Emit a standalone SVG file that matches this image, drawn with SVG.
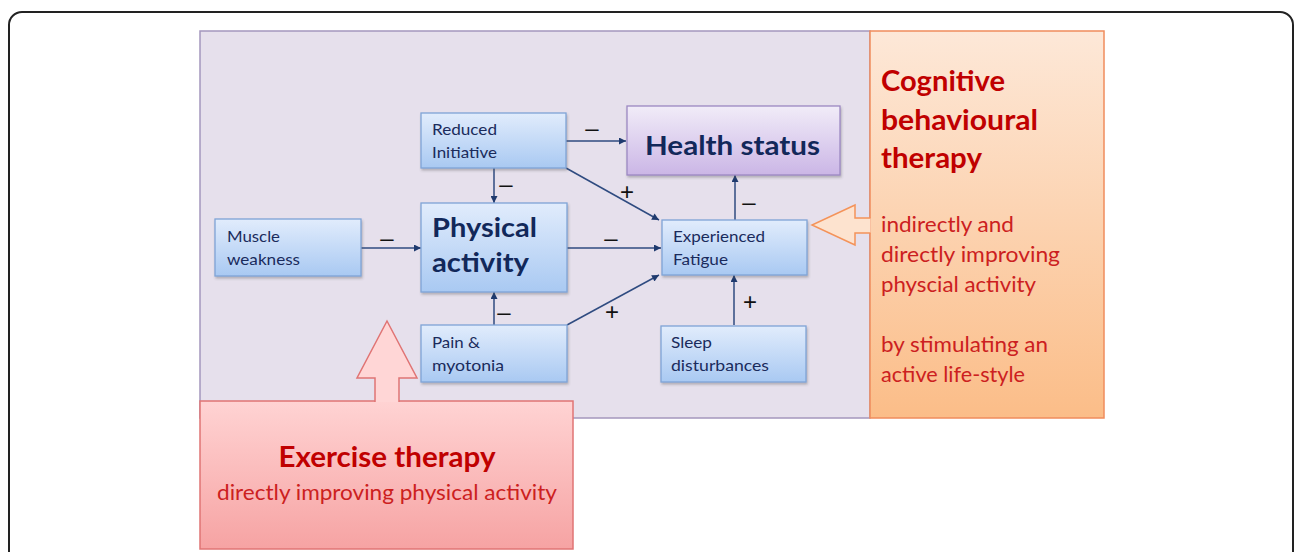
<svg xmlns="http://www.w3.org/2000/svg" width="1295" height="552" viewBox="0 0 1295 552">
<defs>
<linearGradient id="gBlue" x1="0" y1="0" x2="0" y2="1"><stop offset="0" stop-color="#e1ecfc"/><stop offset="1" stop-color="#a9c9f2"/></linearGradient>
<linearGradient id="gPurple" x1="0" y1="0" x2="0" y2="1"><stop offset="0" stop-color="#f1ecf8"/><stop offset="1" stop-color="#cbb6e6"/></linearGradient>
<linearGradient id="gOrange" x1="0" y1="0" x2="0" y2="1"><stop offset="0" stop-color="#fde8d8"/><stop offset="1" stop-color="#fbbd88"/></linearGradient>
<linearGradient id="gRed" x1="0" y1="0" x2="0" y2="1"><stop offset="0" stop-color="#ffd3d3"/><stop offset="1" stop-color="#f6a3a3"/></linearGradient>
<filter id="sh" x="-10%" y="-10%" width="125%" height="130%"><feDropShadow dx="1" dy="2" stdDeviation="1.2" flood-color="#555" flood-opacity="0.35"/></filter>
<marker id="ah" viewBox="0 0 10 10" refX="10" refY="5" markerWidth="9" markerHeight="7" markerUnits="userSpaceOnUse" orient="auto"><path d="M0,0 L10,5 L0,10 z" fill="#1f3a6e"/></marker>
</defs>
<style>
.node{fill:url(#gBlue);stroke:#7fa4d6;stroke-width:1.3;filter:url(#sh)}
.lbl{font-family:Lato,"Liberation Sans",sans-serif;font-size:16px;fill:#1a2b5c}
.big{font-family:Lato,"Liberation Sans",sans-serif;font-size:27px;font-weight:bold;fill:#12285a}
.sign{font-family:"Liberation Sans",Arial,sans-serif;font-size:24px;fill:#111}
.conn line{stroke:#2f4b80;stroke-width:1.5;marker-end:url(#ah)}
.head{font-family:Lato,"Liberation Sans",sans-serif;font-size:28px;font-weight:bold;fill:#c00000}
.body{font-family:Lato,"Liberation Sans",sans-serif;font-size:21px;fill:#cc2020}
</style>
<rect x="0" y="0" width="1295" height="552" fill="#ffffff"/>
<rect x="9" y="12" width="1284" height="580" rx="13" fill="none" stroke="#222" stroke-width="2"/>

<g id="background">
<rect x="200" y="31" width="670" height="387" fill="#e6e0ec" stroke="#a497bd" stroke-width="1.5"/>
</g>

<g id="cbt">
<rect x="870" y="31" width="234" height="387" fill="url(#gOrange)" stroke="#f08c5c" stroke-width="1.5"/>
<path d="M870.5,218 L855,218 L855,205 L812,225 L855,245 L855,233 L870.5,233" fill="#fde3cf" stroke="#f4935a" stroke-width="1.5"/>
<text class="head" x="881" y="91" textLength="124" lengthAdjust="spacingAndGlyphs">Cognitive</text>
<text class="head" x="881" y="130" textLength="157" lengthAdjust="spacingAndGlyphs">behavioural</text>
<text class="head" x="881" y="168" textLength="101" lengthAdjust="spacingAndGlyphs">therapy</text>
<text class="body" x="881" y="232" textLength="133" lengthAdjust="spacingAndGlyphs">indirectly and</text>
<text class="body" x="881" y="262" textLength="179" lengthAdjust="spacingAndGlyphs">directly improving</text>
<text class="body" x="881" y="292" textLength="155" lengthAdjust="spacingAndGlyphs">physcial activity</text>
<text class="body" x="881" y="352" textLength="167" lengthAdjust="spacingAndGlyphs">by stimulating an</text>
<text class="body" x="881" y="382" textLength="144" lengthAdjust="spacingAndGlyphs">active life-style</text>
</g>

<g id="exercise">
<rect x="200" y="401" width="373" height="148" fill="url(#gRed)" stroke="#e07474" stroke-width="1.5"/>
<path d="M375,402 L375,378 L357,378 L387,321 L417,378 L399,378 L399,402" fill="#ffd6d6" stroke="#e07474" stroke-width="1.5"/>
<text class="head" x="387" y="467" text-anchor="middle" textLength="217" lengthAdjust="spacingAndGlyphs">Exercise therapy</text>
<text class="body" x="387" y="500" text-anchor="middle" font-size="22" textLength="340" lengthAdjust="spacingAndGlyphs">directly improving physical activity</text>
</g>

<g id="connectors" class="conn">
<line x1="566" y1="141" x2="626" y2="141"/>
<line x1="494" y1="168" x2="494" y2="203"/>
<line x1="566" y1="168" x2="659" y2="220"/>
<line x1="361" y1="248" x2="421" y2="248"/>
<line x1="567" y1="248" x2="661" y2="248"/>
<line x1="494" y1="325" x2="494" y2="292"/>
<line x1="567" y1="325" x2="659" y2="275"/>
<line x1="735" y1="220" x2="735" y2="175"/>
<line x1="734" y1="325" x2="734" y2="275"/>
</g>

<g id="signs">
<text class="sign" x="592" y="136" text-anchor="middle">–</text>
<text class="sign" x="506" y="192" text-anchor="middle">–</text>
<text class="sign" x="627" y="200" text-anchor="middle">+</text>
<text class="sign" x="387" y="246" text-anchor="middle">–</text>
<text class="sign" x="611" y="246" text-anchor="middle">–</text>
<text class="sign" x="749" y="210" text-anchor="middle">–</text>
<text class="sign" x="504" y="320" text-anchor="middle">–</text>
<text class="sign" x="612" y="320" text-anchor="middle">+</text>
<text class="sign" x="750" y="310" text-anchor="middle">+</text>
</g>

<g id="reduced-initiative">
<rect class="node" x="421" y="113" width="145" height="55"/>
<text class="lbl" x="432" y="135" textLength="65" lengthAdjust="spacingAndGlyphs">Reduced</text>
<text class="lbl" x="432" y="158" textLength="65" lengthAdjust="spacingAndGlyphs">Initiative</text>
</g>

<g id="health-status">
<rect x="627" y="106" width="213" height="69" fill="url(#gPurple)" stroke="#9c88c2" stroke-width="1.3" filter="url(#sh)"/>
<text class="big" x="645" y="155" font-size="28" textLength="175" lengthAdjust="spacingAndGlyphs">Health status</text>
</g>

<g id="muscle-weakness">
<rect class="node" x="215" y="219" width="146" height="57"/>
<text class="lbl" x="227" y="242" textLength="53" lengthAdjust="spacingAndGlyphs">Muscle</text>
<text class="lbl" x="227" y="265" textLength="73" lengthAdjust="spacingAndGlyphs">weakness</text>
</g>

<g id="physical-activity">
<rect class="node" x="421" y="203" width="146" height="89"/>
<text class="big" x="432" y="237" textLength="105" lengthAdjust="spacingAndGlyphs">Physical</text>
<text class="big" x="432" y="272" textLength="97" lengthAdjust="spacingAndGlyphs">activity</text>
</g>

<g id="experienced-fatigue">
<rect class="node" x="662" y="220" width="145" height="55"/>
<text class="lbl" x="673" y="242" textLength="92" lengthAdjust="spacingAndGlyphs">Experienced</text>
<text class="lbl" x="673" y="265" textLength="55" lengthAdjust="spacingAndGlyphs">Fatigue</text>
</g>

<g id="pain-myotonia">
<rect class="node" x="421" y="325" width="146" height="57"/>
<text class="lbl" x="432" y="348" textLength="48" lengthAdjust="spacingAndGlyphs">Pain &amp;</text>
<text class="lbl" x="432" y="371" textLength="72" lengthAdjust="spacingAndGlyphs">myotonia</text>
</g>

<g id="sleep-disturbances">
<rect class="node" x="661" y="326" width="145" height="56"/>
<text class="lbl" x="671" y="348" textLength="41" lengthAdjust="spacingAndGlyphs">Sleep</text>
<text class="lbl" x="671" y="371" textLength="98" lengthAdjust="spacingAndGlyphs">disturbances</text>
</g>
</svg>
